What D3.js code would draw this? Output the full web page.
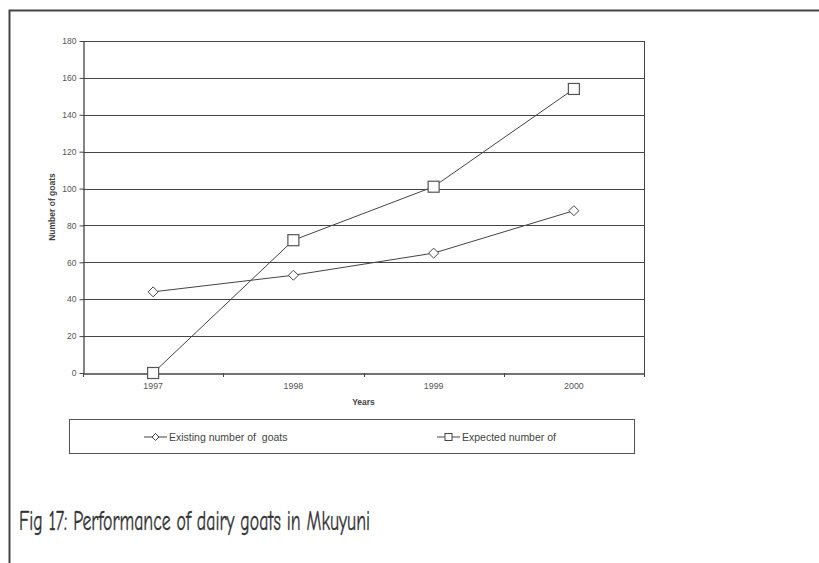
<!DOCTYPE html>
<html><head><meta charset="utf-8">
<script src="https://cdn.jsdelivr.net/npm/d3@7"></script>
<style>
html,body{margin:0;padding:0;background:#fff;}
svg{display:block;}
</style></head>
<body>
<svg id="chart" width="819" height="563"></svg>
<script>
const years = ["1997", "1998", "1999", "2000"];
const existing = [44, 53, 65, 88];
const expected = [0, 72, 101, 154];
const yTicks = [0, 20, 40, 60, 80, 100, 120, 140, 160, 180];
const seriesNames = ["Existing number of  goats", "Expected number of"];
const caption = "Fig 17: Performance of dairy goats in Mkuyuni";

const svg = d3.select("#chart");
const font = "'Liberation Sans', Arial, Helvetica, sans-serif";

// outer frame (top and left visible)
svg.append("path").attr("d", "M9.5,563 V10.5 H819")
  .attr("fill", "none").attr("stroke", "#444").attr("stroke-width", 2);

const m = {left: 83, right: 644, top: 41, bottom: 373};
const x = d3.scaleBand().domain(years).range([m.left, m.right]);
const y = d3.scaleLinear().domain([0, 180]).range([m.bottom, m.top]);

// gridlines
svg.append("g").selectAll("line").data(yTicks.filter(d => d > 0)).join("line")
  .attr("x1", m.left).attr("x2", m.right)
  .attr("y1", d => Math.round(y(d)) + 0.5).attr("y2", d => Math.round(y(d)) + 0.5)
  .attr("stroke", "#444").attr("stroke-width", 1);
// right border of plot
svg.append("line").attr("x1", m.right + 0.5).attr("x2", m.right + 0.5)
  .attr("y1", m.top).attr("y2", m.bottom).attr("stroke", "#444");

// y axis
const yAxis = svg.append("g").attr("transform", `translate(${m.left + 0.5},0)`)
  .call(d3.axisLeft(y).tickValues(yTicks).tickSize(4).tickSizeOuter(0).tickPadding(3));
yAxis.select(".domain").attr("stroke", "#444").attr("stroke-width", 1.3);
yAxis.selectAll(".tick line").attr("stroke", "#444");
yAxis.selectAll(".tick text").attr("font-family", font).attr("font-size", 8.5).attr("fill", "#555");

// x axis
const xAxis = svg.append("g").attr("transform", `translate(0,${m.bottom + 0.5})`)
  .call(d3.axisBottom(x).tickSize(0).tickPadding(9));
xAxis.select(".domain").attr("stroke", "#444").attr("stroke-width", 1.5);
xAxis.selectAll(".tick text").attr("font-family", font).attr("font-size", 8.8).attr("fill", "#555");
// tick marks at category boundaries
const bounds = years.map(d => x(d)).concat([m.right]);
svg.append("g").selectAll("line").data(bounds).join("line")
  .attr("x1", d => Math.round(d) + 0.5).attr("x2", d => Math.round(d) + 0.5)
  .attr("y1", m.bottom).attr("y2", m.bottom + 4).attr("stroke", "#444");

// axis titles
svg.append("text").attr("transform", `translate(55,${(m.top + m.bottom) / 2}) rotate(-90)`)
  .attr("text-anchor", "middle").attr("font-family", font).attr("font-size", 8.5)
  .attr("font-weight", "bold").attr("fill", "#444").text("Number of goats");
svg.append("text").attr("x", (m.left + m.right) / 2).attr("y", 405)
  .attr("text-anchor", "middle").attr("font-family", font).attr("font-size", 8.5)
  .attr("font-weight", "bold").attr("fill", "#444").text("Years");

const cx = d => x(d) + x.bandwidth() / 2;
const line = d3.line().x(d => cx(d[0])).y(d => y(d[1]));
const diamond = s => `M0,${-s}L${s},0L0,${s}L${-s},0Z`;

// series lines
[existing, expected].forEach(vals => {
  svg.append("path").datum(years.map((d, i) => [d, vals[i]]))
    .attr("d", line).attr("fill", "none").attr("stroke", "#444").attr("stroke-width", 1);
});
// markers
svg.append("g").selectAll("path").data(years.map((d, i) => [d, existing[i]])).join("path")
  .attr("transform", d => `translate(${cx(d[0])},${y(d[1])})`)
  .attr("d", diamond(5)).attr("fill", "#fff").attr("stroke", "#444").attr("stroke-width", 1);
svg.append("g").selectAll("rect").data(years.map((d, i) => [d, expected[i]])).join("rect")
  .attr("x", d => cx(d[0]) - 5.5).attr("y", d => y(d[1]) - 5.5)
  .attr("width", 11).attr("height", 11)
  .attr("fill", "#fff").attr("stroke", "#555").attr("stroke-width", 1.2);

// legend
svg.append("rect").attr("x", 69.5).attr("y", 419.5).attr("width", 565).attr("height", 34)
  .attr("fill", "#fff").attr("stroke", "#555").attr("stroke-width", 1);
const legY = 437;
const leg = [{x: 144, name: seriesNames[0], type: "d"}, {x: 437, name: seriesNames[1], type: "s"}];
leg.forEach(l => {
  svg.append("line").attr("x1", l.x).attr("x2", l.x + 23).attr("y1", legY).attr("y2", legY)
    .attr("stroke", "#444");
  if (l.type === "d") {
    svg.append("path").attr("transform", `translate(${l.x + 11.5},${legY})`).attr("d", diamond(3.5))
      .attr("fill", "#fff").attr("stroke", "#444");
  } else {
    svg.append("rect").attr("x", l.x + 8).attr("y", legY - 3.5).attr("width", 7).attr("height", 7)
      .attr("fill", "#fff").attr("stroke", "#444");
  }
  svg.append("text").attr("x", l.x + 25).attr("y", legY + 3.8).attr("font-family", font)
    .attr("font-size", 10.5).attr("fill", "#444").style("white-space", "pre").text(l.name);
});

// caption
svg.append("text").attr("x", 19).attr("y", 530)
  .attr("font-family", "'Comic Sans MS', 'Comic Neue', 'DejaVu Sans', sans-serif")
  .attr("font-size", 29).attr("fill", "#333")
  .attr("stroke", "#333").attr("stroke-width", 0.4)
  .attr("textLength", 351).attr("lengthAdjust", "spacingAndGlyphs")
  .text(caption);
</script>
</body></html>
